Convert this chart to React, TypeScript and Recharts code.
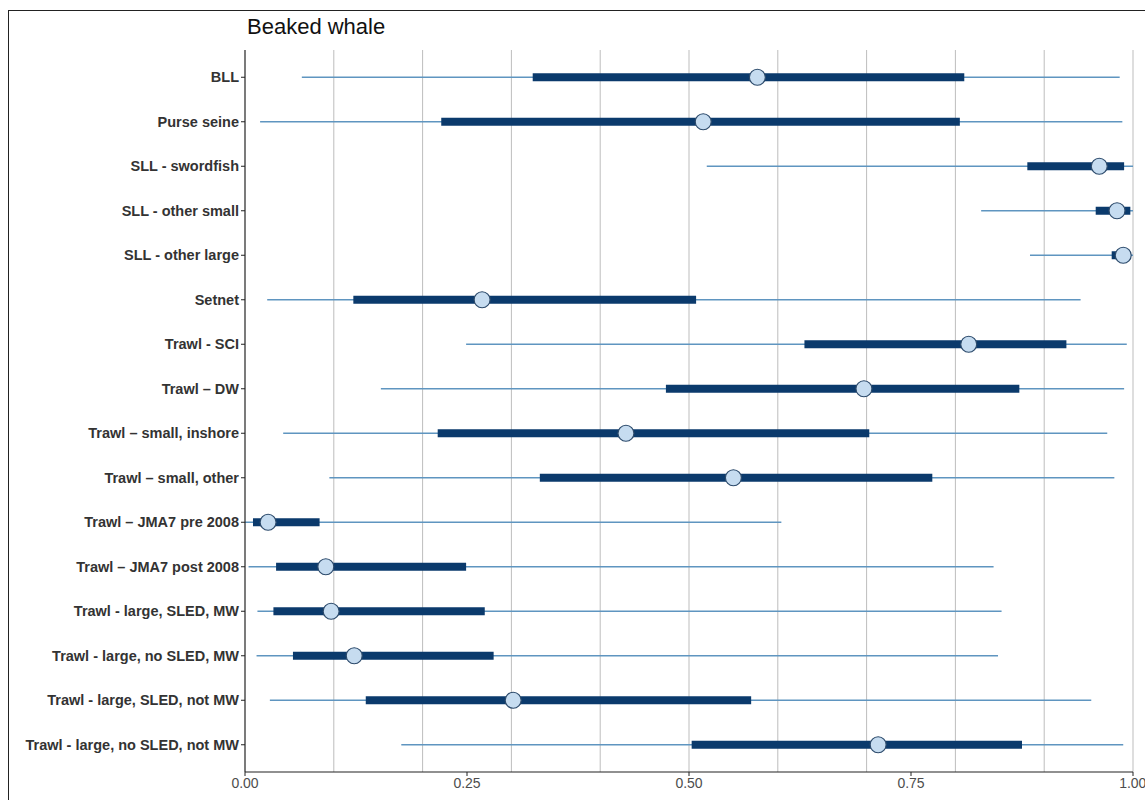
import { ScatterChart, Scatter, XAxis, YAxis, CartesianGrid, ErrorBar } from "recharts";

const CATEGORIES = [
  "BLL",
  "Purse seine",
  "SLL - swordfish",
  "SLL - other small",
  "SLL - other large",
  "Setnet",
  "Trawl - SCI",
  "Trawl – DW",
  "Trawl – small, inshore",
  "Trawl – small, other",
  "Trawl – JMA7 pre 2008",
  "Trawl – JMA7 post 2008",
  "Trawl - large, SLED, MW",
  "Trawl - large, no SLED, MW",
  "Trawl - large, SLED, not MW",
  "Trawl - large, no SLED, not MW",
];

const MEDIAN = [0.577, 0.516, 0.962, 0.982, 0.989, 0.267, 0.815, 0.697, 0.429, 0.55, 0.026, 0.091, 0.097, 0.123, 0.302, 0.713];
const LO95 = [0.064, 0.017, 0.52, 0.829, 0.884, 0.025, 0.249, 0.153, 0.043, 0.095, 0.0, 0.004, 0.014, 0.013, 0.028, 0.176];
const HI95 = [0.985, 0.988, 1.0, 1.0, 1.0, 0.941, 0.993, 0.99, 0.971, 0.979, 0.604, 0.843, 0.852, 0.848, 0.953, 0.989];
const LO50 = [0.324, 0.221, 0.881, 0.958, 0.976, 0.122, 0.63, 0.474, 0.217, 0.332, 0.009, 0.035, 0.032, 0.054, 0.136, 0.503];
const HI50 = [0.81, 0.805, 0.99, 0.997, 0.995, 0.508, 0.925, 0.872, 0.703, 0.774, 0.084, 0.249, 0.27, 0.28, 0.57, 0.875];

const X_TICKS = [0, 0.25, 0.5, 0.75, 1];
const GRID_LINES = [0.1, 0.2, 0.3, 0.4, 0.5, 0.6, 0.7, 0.8, 0.9, 1.0];

const data = CATEGORIES.map((name, i) => ({
  name,
  median: MEDIAN[i],
  err95: [MEDIAN[i] - LO95[i], HI95[i] - MEDIAN[i]],
  err50: [MEDIAN[i] - LO50[i], HI50[i] - MEDIAN[i]],
}));

const FONT = '"Liberation Sans", Arial, sans-serif';

export default function App() {
  return (
    <div style={{ position: "absolute", left: 0, top: 0, width: 1145, height: 800, overflow: "hidden", background: "#fff", fontFamily: FONT }}>
      <div style={{ position: "absolute", left: 8, top: 10, width: 1160, height: 820, border: "1.5px solid #222", boxSizing: "border-box" }} />
      <div style={{ position: "absolute", left: 247, top: 14, fontSize: 22, color: "#111" }}>Beaked whale</div>
      <ScatterChart
        width={1145}
        height={800}
        margin={{ top: 50, right: 12, bottom: 0, left: 0 }}
        style={{ position: "absolute", left: 0, top: 0 }}
      >
        {/* vertical grid every 0.1 (x domain is fixed to 0..1) */}
        <CartesianGrid
          horizontal={false}
          stroke="#bdbdbd"
          verticalCoordinatesGenerator={({ offset }: any) =>
            GRID_LINES.map((v) => offset.left + v * offset.width)
          }
        />
        <XAxis
          type="number"
          dataKey="median"
          domain={[0, 1]}
          ticks={X_TICKS}
          tickFormatter={(v: number) => v.toFixed(2)}
          height={28}
          tickSize={4}
          tick={{ fontSize: 14, fill: "#4d4d4d", fontFamily: FONT }}
          axisLine={{ stroke: "#222", strokeWidth: 1.2 }}
          tickLine={{ stroke: "#222" }}
        />
        <YAxis
          type="category"
          dataKey="name"
          allowDuplicatedCategory={false}
          reversed
          width={245}
          padding={{ top: 5, bottom: 5 }}
          tickSize={4}
          interval={0}
          tick={{ fontSize: 14.5, fill: "#333", fontWeight: "bold", fontFamily: FONT }}
          axisLine={{ stroke: "#222", strokeWidth: 1.2 }}
          tickLine={{ stroke: "#222" }}
        />
        <Scatter
          data={data}
          isAnimationActive={false}
          shape={(p: any) => (
            <circle cx={p.cx} cy={p.cy} r={8} fill="#c6dcf0" stroke="#2c4a6b" strokeWidth={1.2} />
          )}
        >
          <ErrorBar dataKey="err95" direction="x" width={0} stroke="#5f95c0" strokeWidth={1.5} isAnimationActive={false} />
          <ErrorBar dataKey="err50" direction="x" width={0} stroke="#0b3a6c" strokeWidth={8} isAnimationActive={false} />
        </Scatter>
      </ScatterChart>
    </div>
  );
}
